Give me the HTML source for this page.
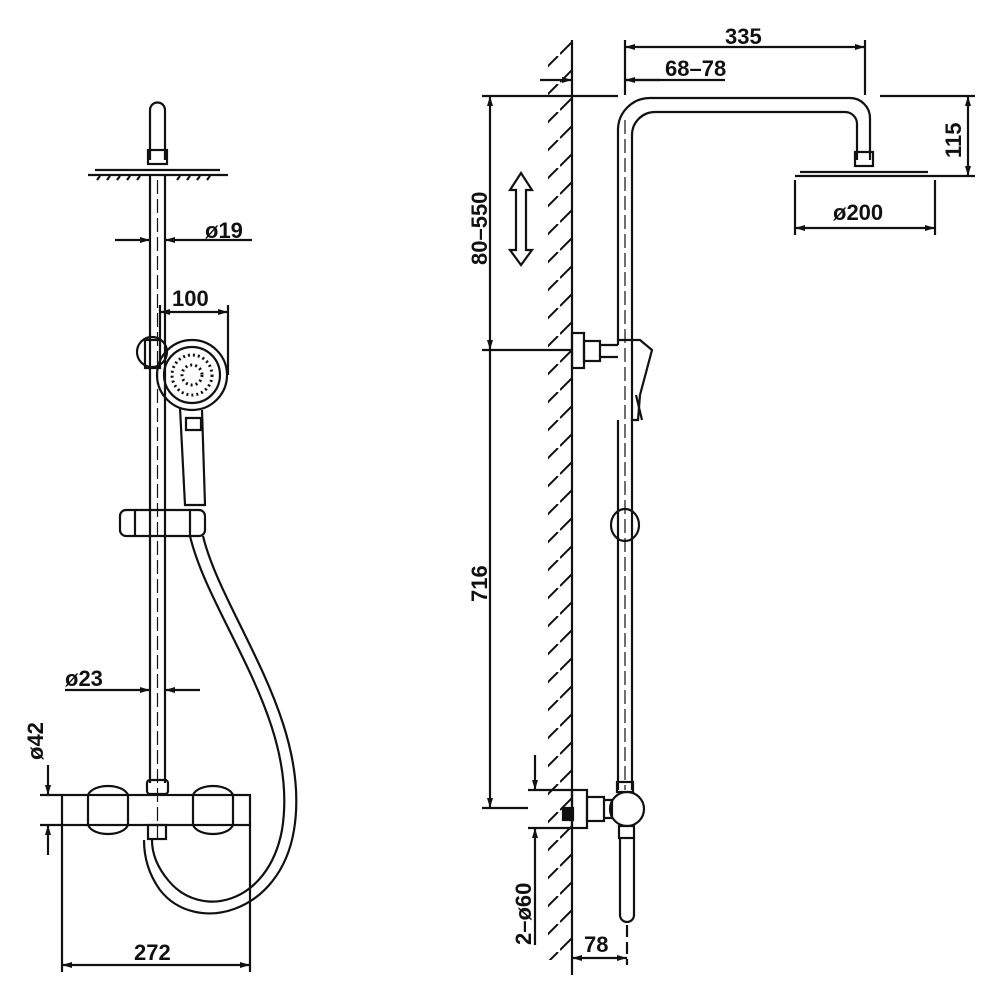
<!DOCTYPE html>
<html><head><meta charset="utf-8"><style>
html,body{margin:0;padding:0;background:#fff;width:1005px;height:1005px;overflow:hidden}
text{font-family:"Liberation Sans",sans-serif;font-weight:bold;font-size:22px;fill:#111}
</style></head><body>
<svg width="1005" height="1005" viewBox="0 0 1005 1005" xmlns="http://www.w3.org/2000/svg">
<defs>
<marker id="a" viewBox="0 0 10 6" refX="10" refY="3" markerWidth="14" markerHeight="6" markerUnits="userSpaceOnUse" orient="auto-start-reverse"><path d="M0,0L10,3L0,6z" fill="#111"/></marker>
<pattern id="h" width="28" height="28" patternUnits="userSpaceOnUse"><path d="M26,0L0,26" stroke="#111" stroke-width="2"/></pattern>
</defs>
<g stroke="#111" stroke-width="2.2" fill="none">
<path d="M150,160V110a7.5,7.5 0 0 1 15,0V160"/>
<rect x="148" y="150" width="19" height="14"/>
<path d="M95,170H220M88,175H228" />
<path d="M100,176l-3,4M110,176l-3,4M120,176l-3,4M130,176l-3,4M140,176l-3,4M180,176l-3,4M190,176l-3,4M200,176l-3,4M210,176l-3,4"/>
<path d="M150,176V783M165,176V783"/>
<path d="M157.5,180V840" stroke-dasharray="14,5" stroke-width="1.2"/>
<path d="M115,240H150" marker-end="url(#a)"/><path d="M200,240H165" marker-end="url(#a)"/><path d="M200,240H252"/>
<path d="M160,305V340M228,305V375"/>
<path d="M160,312H228" marker-start="url(#a)" marker-end="url(#a)"/>
<circle cx="152" cy="352" r="15"/>
<rect x="145" y="340" width="15" height="28"/>
<circle cx="192" cy="375" r="35"/>
<circle cx="192" cy="375" r="28"/>
<circle cx="192" cy="375" r="20" stroke-dasharray="2,3" stroke-width="3"/>
<circle cx="192" cy="375" r="10" stroke-dasharray="2,3" stroke-width="3"/>
<path d="M180,408L185,505H205L202,410"/>
<path d="M186,418h15v12h-15z"/>
<rect x="120" y="510" width="85" height="26" rx="6"/>
<path d="M135,510v26M190,510v26"/>
<path d="M190,536C210,620 300,720 282,830C268,905 200,920 168,880C158,868 152,855 152,840"/>
<path d="M203,536C222,615 312,720 294,830C280,915 195,935 160,890C147,872 144,855 144,840"/>
<path d="M65,690H150" marker-end="url(#a)"/><path d="M200,690H165" marker-end="url(#a)"/>
<rect x="147" y="780" width="21" height="14" rx="3"/>
<rect x="62" y="795" width="188" height="30"/>
<path d="M88,795c5,-12 35,-12 40,0M88,825c5,12 35,12 40,0M88,795v30M128,795v30"/>
<path d="M193,795c5,-12 35,-12 40,0M193,825c5,12 35,12 40,0M193,795v30M233,795v30"/>
<rect x="148" y="825" width="18" height="14"/>
<path d="M40,795H62M40,825H62"/>
<path d="M48,765V795" marker-end="url(#a)"/><path d="M48,855V825" marker-end="url(#a)"/>
<path d="M62,825V972M250,825V972"/>
<path d="M62,965H250" marker-start="url(#a)" marker-end="url(#a)"/>

<rect x="548" y="40" width="24" height="920" fill="url(#h)" stroke="none"/>
<path d="M572,40V960"/>
<path d="M618,345V130a32,32 0 0 1 32,-32H850a20,20 0 0 1 20,20V160"/>
<path d="M632,345V135a23,23 0 0 1 23,-23H845a12,12 0 0 1 12,12V160"/>
<rect x="855" y="152" width="18" height="14"/>
<path d="M800,172H928M795,176H935"/>
<path d="M618,420V790M632,420V790"/>
<path d="M625,120V790" stroke-dasharray="14,5" stroke-width="1.2"/>
<rect x="572" y="333" width="12" height="35"/>
<rect x="584" y="341" width="16" height="20"/>
<path d="M600,345H618M600,357H618"/>
<path d="M618,340H640L652,350L640,395L638,420H632V345"/>
<path d="M636,395l6,25"/>
<ellipse cx="625" cy="525" rx="14" ry="16"/>
<rect x="617" y="782" width="16" height="10"/>
<rect x="572" y="790" width="15" height="38"/>
<rect x="587" y="797" width="17" height="24"/>
<path d="M604,800H612V818H604"/>
<circle cx="627" cy="809" r="17"/>
<rect x="619" y="826" width="15" height="12"/>
<path d="M620,838V915a7,7 0 0 0 14,0V838"/>
<rect x="563" y="808" width="10" height="12" fill="#111"/>
<path d="M627,925V965" stroke-dasharray="12,5"/>
<path d="M528,790H572M528,828H572"/>
<path d="M535,755V790" marker-end="url(#a)"/><path d="M535,945V828" marker-end="url(#a)"/>
<path d="M572,960V975"/>
<path d="M572,958H627" marker-start="url(#a)" marker-end="url(#a)"/>
<path d="M625,40V95M865,40V95"/>
<path d="M625,47H865" marker-start="url(#a)" marker-end="url(#a)"/>
<path d="M540,80H572" marker-end="url(#a)"/><path d="M660,80H625" marker-end="url(#a)"/><path d="M625,80H725"/>
<path d="M880,96H975M935,176H975"/>
<path d="M968,96V176" marker-start="url(#a)" marker-end="url(#a)"/>
<path d="M795,180V235M935,180V235"/>
<path d="M795,228H935" marker-start="url(#a)" marker-end="url(#a)"/>
<path d="M482,96H618M482,350H572M482,808H528"/>
<path d="M490,96V350" marker-start="url(#a)" marker-end="url(#a)"/>
<path d="M490,350V808" marker-end="url(#a)"/>
<path d="M521,173L510,190H516V250H510L521,265L532,250H526V190H532Z"/>
</g>
<text x="205" y="238">ø19</text>
<text x="172" y="306">100</text>
<text x="65" y="686">ø23</text>
<text x="134" y="960">272</text>
<text transform="translate(43,760) rotate(-90)">ø42</text>
<text x="725" y="44">335</text>
<text x="665" y="76">68–78</text>
<text x="833" y="220">ø200</text>
<text x="584" y="952">78</text>
<text transform="translate(961,158) rotate(-90)">115</text>
<text transform="translate(487,265) rotate(-90)">80–550</text>
<text transform="translate(487,602) rotate(-90)">716</text>
<text transform="translate(531,945) rotate(-90)">2–ø60</text>
</svg>
</body></html>
